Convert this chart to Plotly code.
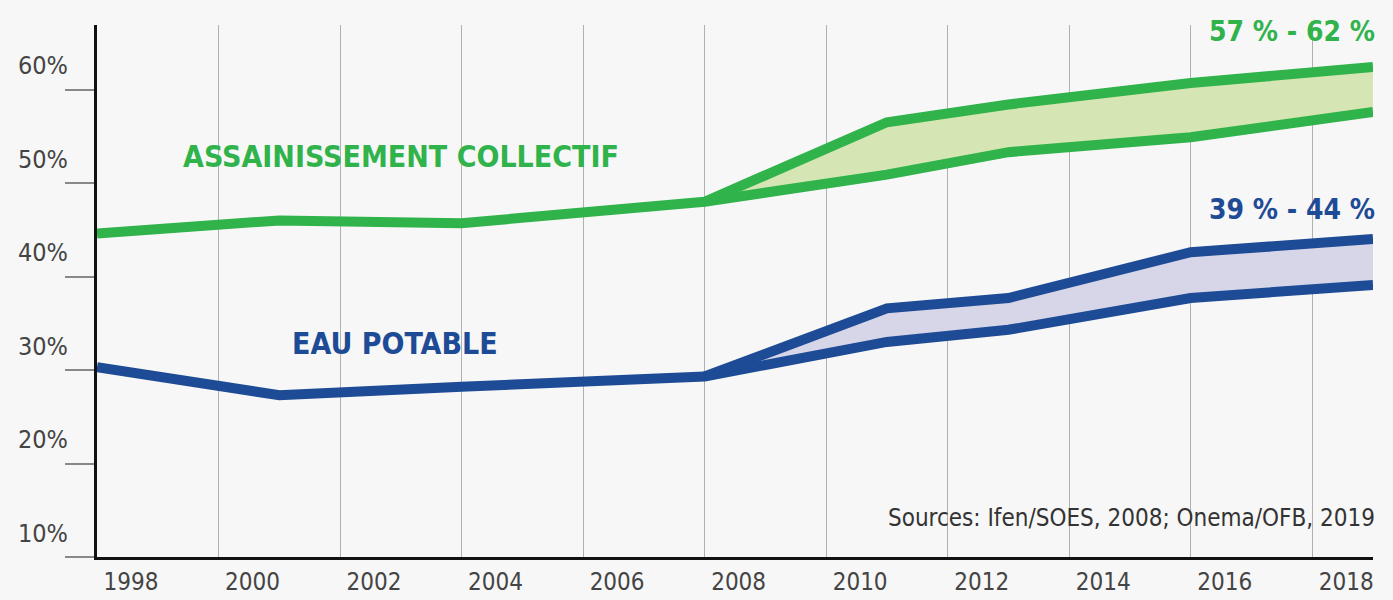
import plotly.graph_objects as go

# ---- data ----
years_hist = [1998, 2001, 2004, 2008]
green_hist = [44.6, 46.0, 45.7, 48.0]
blue_hist = [30.3, 27.3, 28.2, 29.3]

years_proj = [2008, 2011, 2013, 2016, 2019]
green_low = [48.0, 50.9, 53.3, 54.9, 57.6]
green_high = [48.0, 56.5, 58.4, 60.7, 62.4]
blue_low = [29.3, 33.0, 34.3, 37.7, 39.1]
blue_high = [29.3, 36.6, 37.7, 42.6, 44.0]

y_ticks = [10, 20, 30, 40, 50, 60]
y_tick_text = ["10%", "20%", "30%", "40%", "50%", "60%"]
x_ticks = [1998, 2000, 2002, 2004, 2006, 2008, 2010, 2012, 2014, 2016, 2018]
x_tick_text = [str(v) for v in x_ticks]

label_green = "ASSAINISSEMENT COLLECTIF"
label_blue = "EAU POTABLE"
range_green = "57 % - 62 %"
range_blue = "39 % - 44 %"
source_text = "Sources: Ifen/SOES, 2008; Onema/OFB, 2019"

GREEN = "#2fb34a"
BLUE = "#1e4b95"
GREEN_FILL = "#d5e6b4"
BLUE_FILL = "#d6d6e8"
BG = "#f7f7f7"
FONT = "DejaVu Sans Condensed, Roboto, sans-serif"

fig = go.Figure()

# bands
fig.add_trace(go.Scatter(x=years_proj, y=green_low, mode="lines",
                         line=dict(width=0), showlegend=False, hoverinfo="skip"))
fig.add_trace(go.Scatter(x=years_proj, y=green_high, mode="lines", fill="tonexty",
                         fillcolor=GREEN_FILL, line=dict(width=0),
                         showlegend=False, hoverinfo="skip"))
fig.add_trace(go.Scatter(x=years_proj, y=blue_low, mode="lines",
                         line=dict(width=0), showlegend=False, hoverinfo="skip"))
fig.add_trace(go.Scatter(x=years_proj, y=blue_high, mode="lines", fill="tonexty",
                         fillcolor=BLUE_FILL, line=dict(width=0),
                         showlegend=False, hoverinfo="skip"))

# lines
for xs, ys, col in [
    (years_hist + years_proj[1:], green_hist + green_low[1:], GREEN),
    (years_proj, green_high, GREEN),
    (years_hist + years_proj[1:], blue_hist + blue_low[1:], BLUE),
    (years_proj, blue_high, BLUE),
]:
    fig.add_trace(go.Scatter(x=xs, y=ys, mode="lines",
                             line=dict(color=col, width=10),
                             showlegend=False))

annots = [
    dict(x=2003.0, y=52.8, text=label_green, showarrow=False,
         font=dict(family=FONT, size=30, color=GREEN, weight="bold")),
    dict(x=2002.9, y=32.8, text=label_blue, showarrow=False,
         font=dict(family=FONT, size=30, color=BLUE, weight="bold")),
    dict(x=1.003, xref="paper", y=66.2, text=range_green, showarrow=False,
         xanchor="right", font=dict(family=FONT, size=28, color=GREEN, weight="bold")),
    dict(x=1.003, xref="paper", y=47.2, text=range_blue, showarrow=False,
         xanchor="right", font=dict(family=FONT, size=28, color=BLUE, weight="bold")),
    dict(x=1.003, xref="paper", y=14.2, text=source_text, showarrow=False,
         xanchor="right", font=dict(family=FONT, size=24, color="#333333")),
]
fig.update_layout(annotations=annots)

fig.update_layout(
    width=1393, height=600,
    margin=dict(l=97, r=20, t=25, b=43, autoexpand=False),
    paper_bgcolor=BG, plot_bgcolor=BG,
    showlegend=False,
    xaxis=dict(range=[1998, 2019], tickvals=x_ticks, ticktext=x_tick_text,
               showgrid=True, gridcolor="#b0b0b0", gridwidth=1,
               zeroline=False, showline=True, linecolor="#111111", linewidth=3,
               ticks="", ticklabelshift=34, ticklabelstandoff=1,
               tickfont=dict(family=FONT, size=24, color="#444444"),
               automargin=False, fixedrange=True),
    yaxis=dict(range=[10, 66.9], tickvals=y_ticks, ticktext=y_tick_text,
               showgrid=False, zeroline=False, showline=True,
               linecolor="#111111", linewidth=3,
               ticks="outside", ticklen=29, tickwidth=2, tickcolor="#888888",
               ticklabelshift=-24, ticklabelstandoff=-8,
               tickfont=dict(family=FONT, size=25, color="#444444"),
               automargin=False, fixedrange=True),
)

fig.write_html("out.html")
